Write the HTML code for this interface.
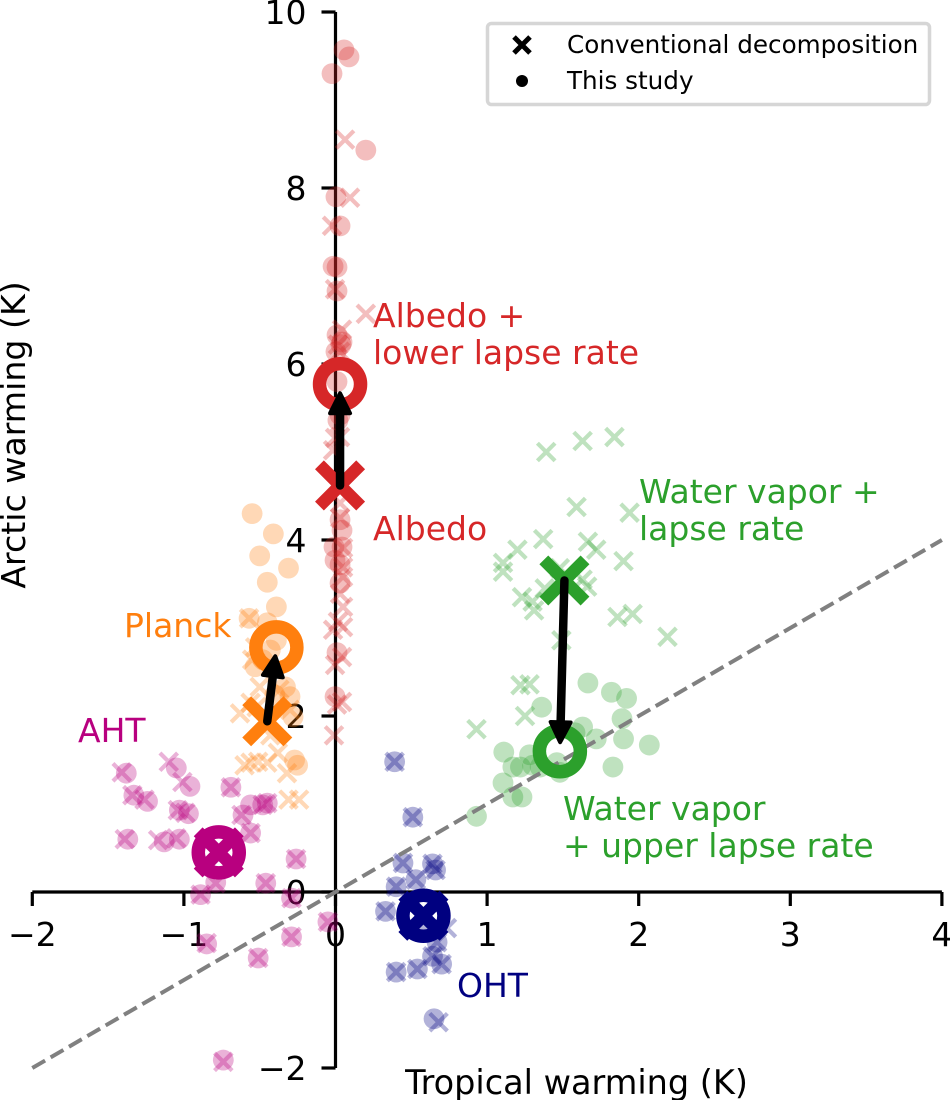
<!DOCTYPE html>
<html lang="en">
<head>
<meta charset="utf-8">
<title>Arctic vs tropical warming</title>
<style>
html,body{margin:0;padding:0;background:#fff;}
svg{display:block;font-family:"DejaVu Sans","Liberation Sans",sans-serif;filter:blur(0.35px);}
text{font-size:33px;}
</style>
</head>
<body>
<svg id="chart" xmlns="http://www.w3.org/2000/svg" width="950" height="1100" viewBox="0 0 950 1100">
  <rect x="0" y="0" width="950" height="1100" fill="#ffffff"/>
  <g id="axes"></g>
  <text x="576.5" y="1094" text-anchor="middle" fill="#000" style="font-size:33.5px">Tropical warming (K)</text>
  <text transform="translate(25,435) rotate(-90)" text-anchor="middle" fill="#000" style="font-size:33.2px">Arctic warming (K)</text>
  <g id="small-markers"></g>
  <g id="reference-line"></g>
  <g id="big-markers"></g>
  <g id="arrows"></g>
  <g>
    <text x="373" y="327" fill="#d62728">Albedo +</text>
    <text x="373" y="364" fill="#d62728">lower lapse rate</text>
    <text x="373" y="540" fill="#d62728">Albedo</text>
    <text x="639" y="503" fill="#2ca02c">Water vapor +</text>
    <text x="639" y="540" fill="#2ca02c">lapse rate</text>
    <text x="124" y="637" fill="#ff7f0e">Planck</text>
    <text x="78" y="742" fill="#b8007f">AHT</text>
    <text x="563" y="820" fill="#2ca02c">Water vapor</text>
    <text x="563" y="857" fill="#2ca02c">+ upper lapse rate</text>
    <text x="457" y="997" fill="#000080">OHT</text>
  </g>
  <g>
    <rect x="487.5" y="23.5" width="442" height="81" rx="4" ry="4" fill="#ffffff" fill-opacity="0.8" stroke="#d6d6d6" stroke-width="3.5"/>
    <path d="M514 37L530 53M530 37L514 53" stroke="#000" stroke-width="5" fill="none"/>
    <text x="567" y="53" style="font-size:24.65px" fill="#000">Conventional decomposition</text>
    <circle cx="522" cy="81" r="6" fill="#000"/>
    <text x="567" y="89" style="font-size:24.65px" fill="#000">This study</text>
  </g>
</svg>
<script>
// Axis ranges and tick labels
const xTicks = [-2, -1, 0, 1, 2, 3, 4];
const yTicks = [-2, 0, 2, 4, 6, 8, 10];
const referenceLine = [[-2, -2], [4, 4]];

// Series values: [tropical warming, arctic warming]
const albedoStudy = [[.056,9.57],[.089,9.49],[-.023,9.30],[.20,8.43],[.003,7.90],[.03,7.57],[-.016,7.11],[.01,7.10],[.01,6.83],[.01,6.33],[.043,6.25],[.036,6.22],[.003,6.14],[.01,5.80],[.03,5.42],[.016,5.36],[.03,4.23],[.043,4.11],[-.01,3.92],[.043,3.92],[-.003,3.77],[.03,3.72],[.03,3.51],[.01,2.72],[-.003,2.22]];
const albedoConventional = [[.063,8.55],[.096,7.89],[-.023,7.57],[-.003,6.85],[.20,6.57],[.043,6.39],[.016,6.22],[.03,6.14],[-.003,5.16],[.03,5.17],[-.016,5.02],[.03,4.42],[.03,4.25],[.05,3.91],[.05,3.69],[.05,3.58],[.03,3.39],[.05,3.24],[.016,3.07],[.05,3.01],[-.016,2.98],[.043,2.67],[-.003,2.58],[.043,2.16],[.01,2.13],[-.01,1.78]];
const planckStudy = [[-.55,4.30],[-.41,4.07],[-.50,3.82],[-.31,3.68],[-.45,3.52],[-.39,3.24],[-.57,3.11],[-.45,3.06],[-.39,2.86],[-.43,2.75],[-.48,2.64],[-.53,2.56],[-.33,2.33],[-.40,2.24],[-.30,2.22],[-.28,1.99],[-.27,1.50],[-.25,1.44]];
const planckConventional = [[-.57,3.11],[-.53,2.78],[-.55,2.64],[-.50,2.33],[-.37,2.30],[-.56,2.15],[-.52,2.10],[-.30,2.07],[-.63,2.03],[-.43,1.78],[-.38,1.58],[-.51,1.48],[-.56,1.47],[-.45,1.47],[-.60,1.44],[-.32,1.35],[-.31,1.05],[-.24,1.05]];
const ahtStudy = [[-1.38,1.35],[-1.05,1.41],[-.96,1.20],[-1.33,1.10],[-1.24,1.03],[-.69,1.19],[-1.03,.93],[-.97,.89],[-1.37,.60],[-1.13,.57],[-1.03,.60],[-.56,.99],[-.45,1.01],[-.48,.99],[-.61,.875],[-.56,.67],[-.26,.375],[-.46,.10],[-.79,.11],[-.89,-.03],[-.29,-.07],[-.85,-.59],[-.51,-.75],[-.29,-.51],[-.05,-.34],[-.74,-1.91]];
const ahtConventional = [[-1.41,1.36],[-1.10,1.48],[-1.01,1.25],[-1.34,1.10],[-1.26,1.05],[-.69,1.19],[-1.04,.93],[-.99,.90],[-1.39,.60],[-1.17,.59],[-1.05,.61],[-.48,.99],[-.45,1.01],[-.62,.875],[-.56,.67],[-.26,.375],[-.46,.10],[-.79,.10],[-.89,-.03],[-.29,-.07],[-.85,-.58],[-.51,-.75],[-.29,-.51],[-.05,-.34],[-.74,-1.93]];
const ohtStudy = [[.39,1.48],[.51,.85],[.445,.33],[.64,.32],[.66,.25],[.53,.14],[.40,.06],[.33,-.22],[.59,-.43],[.67,-.57],[.40,-.91],[.54,-.875],[.64,-.73],[.70,-.82],[.65,-1.44]];
const ohtConventional = [[.39,1.48],[.51,.85],[.445,.33],[.64,.32],[.66,.25],[.53,.14],[.40,.06],[.33,-.22],[.735,-.41],[.67,-.57],[.40,-.91],[.54,-.875],[.64,-.73],[.70,-.82],[.68,-1.48]];
const waterVaporStudy = [[1.665,2.375],[1.82,2.27],[1.92,2.20],[1.36,2.10],[1.89,1.97],[1.63,1.875],[1.58,1.81],[1.72,1.74],[1.90,1.74],[2.07,1.67],[1.11,1.59],[1.28,1.56],[1.46,1.47],[1.30,1.44],[1.83,1.42],[1.17,1.42],[1.22,1.42],[1.35,1.42],[1.48,1.36],[1.105,1.24],[1.17,1.08],[1.23,1.08],[.93,.86]];
const waterVaporConventional = [[1.39,5.0],[1.63,5.125],[1.84,5.17],[1.59,4.375],[1.94,4.31],[1.37,4.01],[1.665,3.98],[1.72,3.89],[1.20,3.89],[1.105,3.74],[1.105,3.64],[1.90,3.76],[1.48,3.68],[1.63,3.55],[1.66,3.47],[1.38,3.45],[1.23,3.35],[1.30,3.30],[1.31,3.20],[1.86,3.125],[1.96,3.16],[2.19,2.90],[1.49,2.86],[1.22,2.35],[1.28,2.36],[1.25,2.0],[.93,1.85]];

// Ensemble means
const seriesNames = ['planck', 'aht', 'oht', 'water-vapor', 'albedo'];
const seriesColors = ['#ff7f0e', '#b8007f', '#000080', '#2ca02c', '#d62728'];
const meanConventional = [[-.45,1.94],[-.77,.45],[.58,-.27],[1.51,3.54],[.03,4.62]];
const meanStudy = [[-.39,2.78],[-.77,.45],[.58,-.27],[1.48,1.60],[.03,5.77]];
const arrowSeries = ['planck', 'water-vapor', 'albedo'];

const NS = 'http://www.w3.org/2000/svg';
function X(v) { return 335.5 + 151.6 * v; }
function Y(v) { return 892 - 88 * v; }
function make(tag, attrs, parent) {
  const el = document.createElementNS(NS, tag);
  for (const k in attrs) el.setAttribute(k, attrs[k]);
  parent.appendChild(el);
  return el;
}
function crossPath(cx, cy, h) {
  return 'M' + (cx - h) + ' ' + (cy - h) + 'L' + (cx + h) + ' ' + (cy + h) + 'M' + (cx + h) + ' ' + (cy - h) + 'L' + (cx - h) + ' ' + (cy + h);
}

// Axes
const axes = document.getElementById('axes');
const xSpine = make('line', {x1: X(-2), x2: X(4), y1: Y(0), y2: Y(0), stroke: '#000', 'stroke-width': 3.2}, axes);


const ySpine = make('line', {x1: X(0), x2: X(0), y1: Y(10), y2: Y(-2), stroke: '#000', 'stroke-width': 3.2}, axes);


xTicks.forEach(function (t) {
  const tick = make('line', {x1: X(t), x2: X(t), y1: Y(0), y2: Y(0) + 14, stroke: '#000', 'stroke-width': 3.2}, axes);
  
  
  const label = make('text', {x: X(t), y: Y(0) + 54, 'text-anchor': 'middle', fill: '#000'}, axes);
  
  
  label.textContent = String(t).replace('-', '\u2212');
});
yTicks.forEach(function (t) {
  const tick = make('line', {x1: X(0) - 14, x2: X(0), y1: Y(t), y2: Y(t), stroke: '#000', 'stroke-width': 3.2}, axes);
  
  
  const label = make('text', {x: X(0) - 29, y: Y(t) + 12, 'text-anchor': 'end', fill: '#000'}, axes);
  
  
  label.textContent = String(t).replace('-', '\u2212');
});

// Individual model markers
const small = document.getElementById('small-markers');
function drawCircles(points, color, name) {
  points.forEach(function (p) {
    const c = make('circle', {cx: X(p[0]), cy: Y(p[1]), r: 10.4, fill: color, 'fill-opacity': 0.3}, small);
    
    
  });
}
function drawCrosses(points, color, name) {
  points.forEach(function (p) {
    const c = make('path', {d: crossPath(X(p[0]), Y(p[1]), 8.8), stroke: color, 'stroke-width': 4.2, 'stroke-opacity': 0.3, fill: 'none'}, small);
    
    
  });
}
drawCircles(albedoStudy, '#d62728', 'albedo-study-point');
drawCrosses(albedoConventional, '#d62728', 'albedo-conventional-point');
drawCircles(planckStudy, '#ff7f0e', 'planck-study-point');
drawCrosses(planckConventional, '#ff7f0e', 'planck-conventional-point');
drawCircles(ahtStudy, '#b8007f', 'aht-study-point');
drawCrosses(ahtConventional, '#b8007f', 'aht-conventional-point');
drawCircles(ohtStudy, '#000080', 'oht-study-point');
drawCrosses(ohtConventional, '#000080', 'oht-conventional-point');
drawCircles(waterVaporStudy, '#2ca02c', 'water-vapor-study-point');
drawCrosses(waterVaporConventional, '#2ca02c', 'water-vapor-conventional-point');

// One-to-one reference line
const refGroup = document.getElementById('reference-line');
const ref = make('line', {x1: X(referenceLine[0][0]), y1: Y(referenceLine[0][1]), x2: X(referenceLine[1][0]), y2: Y(referenceLine[1][1]), stroke: '#808080', 'stroke-width': 4, 'stroke-dasharray': '14.8 6.4'}, refGroup);



// Ensemble mean markers
const big = document.getElementById('big-markers');
seriesNames.forEach(function (name, i) {
  const s = meanStudy[i];
  const c = meanConventional[i];
  const ring = make('circle', {cx: X(s[0]), cy: Y(s[1]), r: 20.5, fill: 'none', stroke: seriesColors[i], 'stroke-width': 13.5}, big);
  
  
  const cross = make('path', {d: crossPath(X(c[0]), Y(c[1]), 20.6), stroke: seriesColors[i], 'stroke-width': 12.5, fill: 'none'}, big);
  
  
});

// Arrows from conventional mean to study mean
const arrows = document.getElementById('arrows');
arrowSeries.forEach(function (name) {
  const i = seriesNames.indexOf(name);
  const x0 = X(meanConventional[i][0]), y0 = Y(meanConventional[i][1]);
  const x1 = X(meanStudy[i][0]), y1 = Y(meanStudy[i][1]);
  const len = Math.hypot(x1 - x0, y1 - y0);
  const ux = (x1 - x0) / len, uy = (y1 - y0) / len;
  const px = -uy, py = ux;
  const tipX = x1 - ux * 9, tipY = y1 - uy * 9;
  const baseX = tipX - ux * 20, baseY = tipY - uy * 20;
  const shaft = make('line', {x1: x0, y1: y0, x2: baseX, y2: baseY, stroke: '#000', 'stroke-width': 8.5, 'stroke-linecap': 'round'}, arrows);
  
  
  const pts = [tipX, tipY, baseX + px * 10, baseY + py * 10, baseX - px * 10, baseY - py * 10].join(' ');
  const head = make('polygon', {points: pts, fill: '#000', stroke: '#000', 'stroke-width': 4, 'stroke-linejoin': 'round'}, arrows);
  
  
});
</script>
</body>
</html>
